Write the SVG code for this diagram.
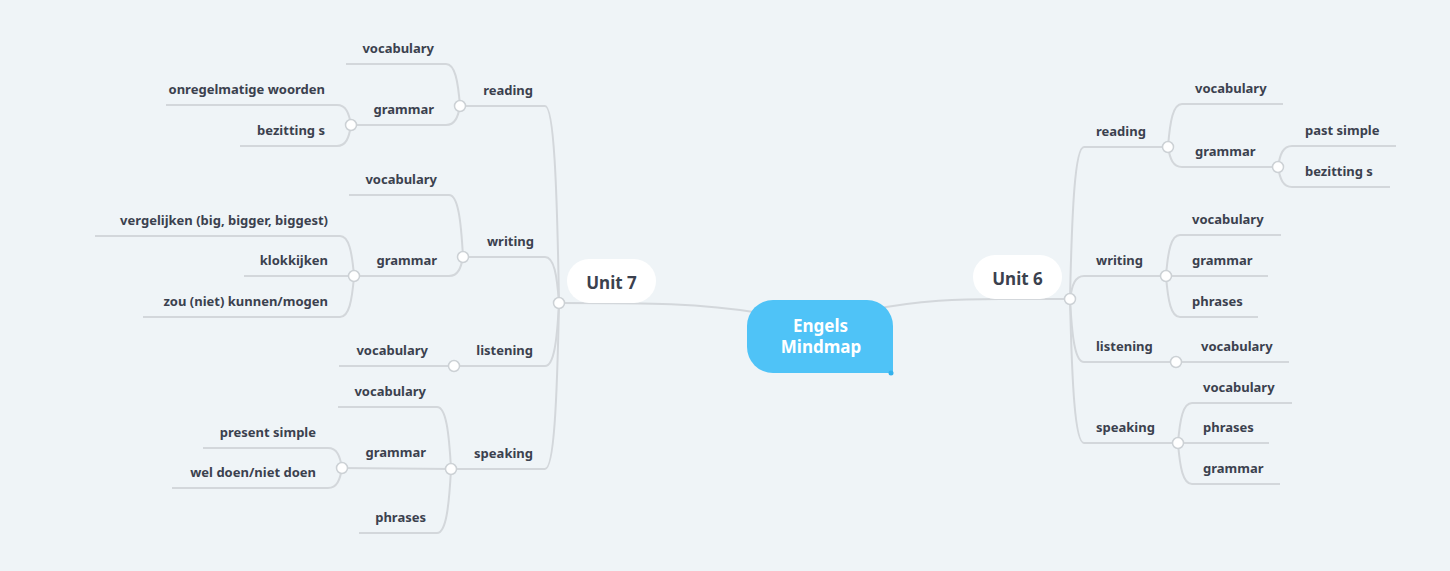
<svg xmlns="http://www.w3.org/2000/svg" width="1450" height="571" viewBox="0 0 1450 571">
<style>
.bg{fill:#eff4f7}
.ln{fill:none;stroke:#d3d7db;stroke-width:2}
.dot{fill:#ffffff;stroke:#ccd1d5;stroke-width:1.5}
.t{font-family:"Noto Sans","Open Sans",sans-serif;font-weight:bold;font-size:13px;fill:#3b414e}
.l{text-anchor:end}
.r{text-anchor:start}
.unit{font-family:"Noto Sans","Open Sans",sans-serif;font-weight:bold;font-size:17px;fill:#3b414e;text-anchor:middle}
.root{font-family:"Noto Sans","Open Sans",sans-serif;font-weight:bold;font-size:17px;fill:#ffffff;text-anchor:middle}
</style>
<rect class="bg" x="0" y="0" width="1450" height="571"/>
<g id="connectors">
<path class="ln" d="M559,303 C650,303 700,303 760,313"/>
<path class="ln" d="M870,310 C920,300 960,299 1000,299 L1070,299"/>
<path class="ln" d="M559,303 C557,185 554,106 545,106 L460,106"/>
<path class="ln" d="M559,303 C557,275 554,257 545,257 L463,257"/>
<path class="ln" d="M559,303 C557,341 554,366 545,366 L454,366"/>
<path class="ln" d="M559,303 C557,403 554,469 545,469 L451,469"/>
<path class="ln" d="M460,106 C458,81 455,64 446,64 L346,64"/>
<path class="ln" d="M460,106 C458,117 455,125 446,125 L351,125"/>
<path class="ln" d="M351,125 C349,113 346,105 337,105 L166,105"/>
<path class="ln" d="M351,125 C349,138 346,146 337,146 L240,146"/>
<path class="ln" d="M463,257 C461,220 458,195 449,195 L349,195"/>
<path class="ln" d="M463,257 C461,268 458,276 449,276 L354,276"/>
<path class="ln" d="M354,276 C352,252 349,236 340,236 L95,236"/>
<path class="ln" d="M354,276 L244,276"/>
<path class="ln" d="M354,276 C352,301 349,317 340,317 L143,317"/>
<path class="ln" d="M454,366 L339,366"/>
<path class="ln" d="M451,469 C449,432 446,407 437,407 L338,407"/>
<path class="ln" d="M451,469 L342,468"/>
<path class="ln" d="M451,469 C449,507 446,533 437,533 L359,533"/>
<path class="ln" d="M342,468 C340,456 337,448 328,448 L203,448"/>
<path class="ln" d="M342,468 C340,480 337,488 328,488 L172,488"/>
<path class="ln" d="M1070,299 C1072,208 1075,147 1084,147 L1168,147"/>
<path class="ln" d="M1070,299 C1072,285 1075,276 1084,276 L1166,276"/>
<path class="ln" d="M1070,299 C1072,337 1075,362 1084,362 L1176,362"/>
<path class="ln" d="M1070,299 C1072,385 1075,443 1084,443 L1178,443"/>
<path class="ln" d="M1168,147 C1170,121 1173,104 1182,104 L1283,104"/>
<path class="ln" d="M1168,147 C1170,159 1173,167 1182,167 L1278,167"/>
<path class="ln" d="M1278,167 C1280,154 1283,146 1292,146 L1396,146"/>
<path class="ln" d="M1278,167 C1280,179 1283,187 1292,187 L1390,187"/>
<path class="ln" d="M1166,276 C1168,251 1171,235 1180,235 L1281,235"/>
<path class="ln" d="M1166,276 L1268,276"/>
<path class="ln" d="M1166,276 C1168,301 1171,317 1180,317 L1258,317"/>
<path class="ln" d="M1176,362 L1289,362"/>
<path class="ln" d="M1178,443 C1180,419 1183,403 1192,403 L1292,403"/>
<path class="ln" d="M1178,443 L1269,443"/>
<path class="ln" d="M1178,443 C1180,468 1183,484 1192,484 L1280,484"/>
</g>
<g id="root">
<path d="M773,300 H867 A26,26 0 0 1 893,326 V373 H773 A26,26 0 0 1 747,347 V326 A26,26 0 0 1 773,300 Z" fill="#4fc3f7"/>
<circle cx="891" cy="373" r="2.5" fill="#33b1ec"/>
<text class="root" x="820.5" y="332">Engels</text>
<text class="root" x="821" y="353">Mindmap</text>
</g>
<g id="unit7">
<rect x="567" y="259" width="89" height="44" rx="22" fill="#ffffff"/>
<text class="unit" x="611.5" y="289">Unit 7</text>
<circle class="dot" cx="559" cy="303" r="5.5"/>
</g>
<g id="unit6">
<rect x="973" y="255" width="89" height="44" rx="22" fill="#ffffff"/>
<text class="unit" x="1017.5" y="285">Unit 6</text>
<circle class="dot" cx="1070" cy="299" r="5.5"/>
</g>
<g id="u7-reading"><text class="t l" x="533" y="95">reading</text><circle class="dot" cx="460" cy="106" r="5.5"/></g>
<g id="u7-reading-vocabulary"><text class="t l" x="434" y="53">vocabulary</text></g>
<g id="u7-reading-grammar"><text class="t l" x="434" y="114">grammar</text><circle class="dot" cx="351" cy="125" r="5.5"/></g>
<g id="u7-reading-grammar-onregelmatige"><text class="t l" x="325" y="94">onregelmatige woorden</text></g>
<g id="u7-reading-grammar-bezitting"><text class="t l" x="325" y="135">bezitting s</text></g>
<g id="u7-writing"><text class="t l" x="534" y="246">writing</text><circle class="dot" cx="463" cy="257" r="5.5"/></g>
<g id="u7-writing-vocabulary"><text class="t l" x="437" y="184">vocabulary</text></g>
<g id="u7-writing-grammar"><text class="t l" x="437" y="265">grammar</text><circle class="dot" cx="354" cy="276" r="5.5"/></g>
<g id="u7-writing-grammar-vergelijken"><text class="t l" x="328" y="225">vergelijken (big, bigger, biggest)</text></g>
<g id="u7-writing-grammar-klokkijken"><text class="t l" x="328" y="265">klokkijken</text></g>
<g id="u7-writing-grammar-zou"><text class="t l" x="328" y="306">zou (niet) kunnen/mogen</text></g>
<g id="u7-listening"><text class="t l" x="533" y="355">listening</text><circle class="dot" cx="454" cy="366" r="5.5"/></g>
<g id="u7-listening-vocabulary"><text class="t l" x="428" y="355">vocabulary</text></g>
<g id="u7-speaking"><text class="t l" x="533" y="458">speaking</text><circle class="dot" cx="451" cy="469" r="5.5"/></g>
<g id="u7-speaking-vocabulary"><text class="t l" x="426" y="396">vocabulary</text></g>
<g id="u7-speaking-grammar"><text class="t l" x="426" y="457">grammar</text><circle class="dot" cx="342" cy="468" r="5.5"/></g>
<g id="u7-speaking-grammar-present"><text class="t l" x="316" y="437">present simple</text></g>
<g id="u7-speaking-grammar-weldoen"><text class="t l" x="316" y="477">wel doen/niet doen</text></g>
<g id="u7-speaking-phrases"><text class="t l" x="426" y="522">phrases</text></g>
<g id="u6-reading"><text class="t r" x="1096" y="136">reading</text><circle class="dot" cx="1168" cy="147" r="5.5"/></g>
<g id="u6-reading-vocabulary"><text class="t r" x="1195" y="93">vocabulary</text></g>
<g id="u6-reading-grammar"><text class="t r" x="1195" y="156">grammar</text><circle class="dot" cx="1278" cy="167" r="5.5"/></g>
<g id="u6-reading-grammar-past"><text class="t r" x="1305" y="135">past simple</text></g>
<g id="u6-reading-grammar-bezitting"><text class="t r" x="1305" y="176">bezitting s</text></g>
<g id="u6-writing"><text class="t r" x="1096" y="265">writing</text><circle class="dot" cx="1166" cy="276" r="5.5"/></g>
<g id="u6-writing-vocabulary"><text class="t r" x="1192" y="224">vocabulary</text></g>
<g id="u6-writing-grammar"><text class="t r" x="1192" y="265">grammar</text></g>
<g id="u6-writing-phrases"><text class="t r" x="1192" y="306">phrases</text></g>
<g id="u6-listening"><text class="t r" x="1096" y="351">listening</text><circle class="dot" cx="1176" cy="362" r="5.5"/></g>
<g id="u6-listening-vocabulary"><text class="t r" x="1201" y="351">vocabulary</text></g>
<g id="u6-speaking"><text class="t r" x="1096" y="432">speaking</text><circle class="dot" cx="1178" cy="443" r="5.5"/></g>
<g id="u6-speaking-vocabulary"><text class="t r" x="1203" y="392">vocabulary</text></g>
<g id="u6-speaking-phrases"><text class="t r" x="1203" y="432">phrases</text></g>
<g id="u6-speaking-grammar"><text class="t r" x="1203" y="473">grammar</text></g>
</svg>
